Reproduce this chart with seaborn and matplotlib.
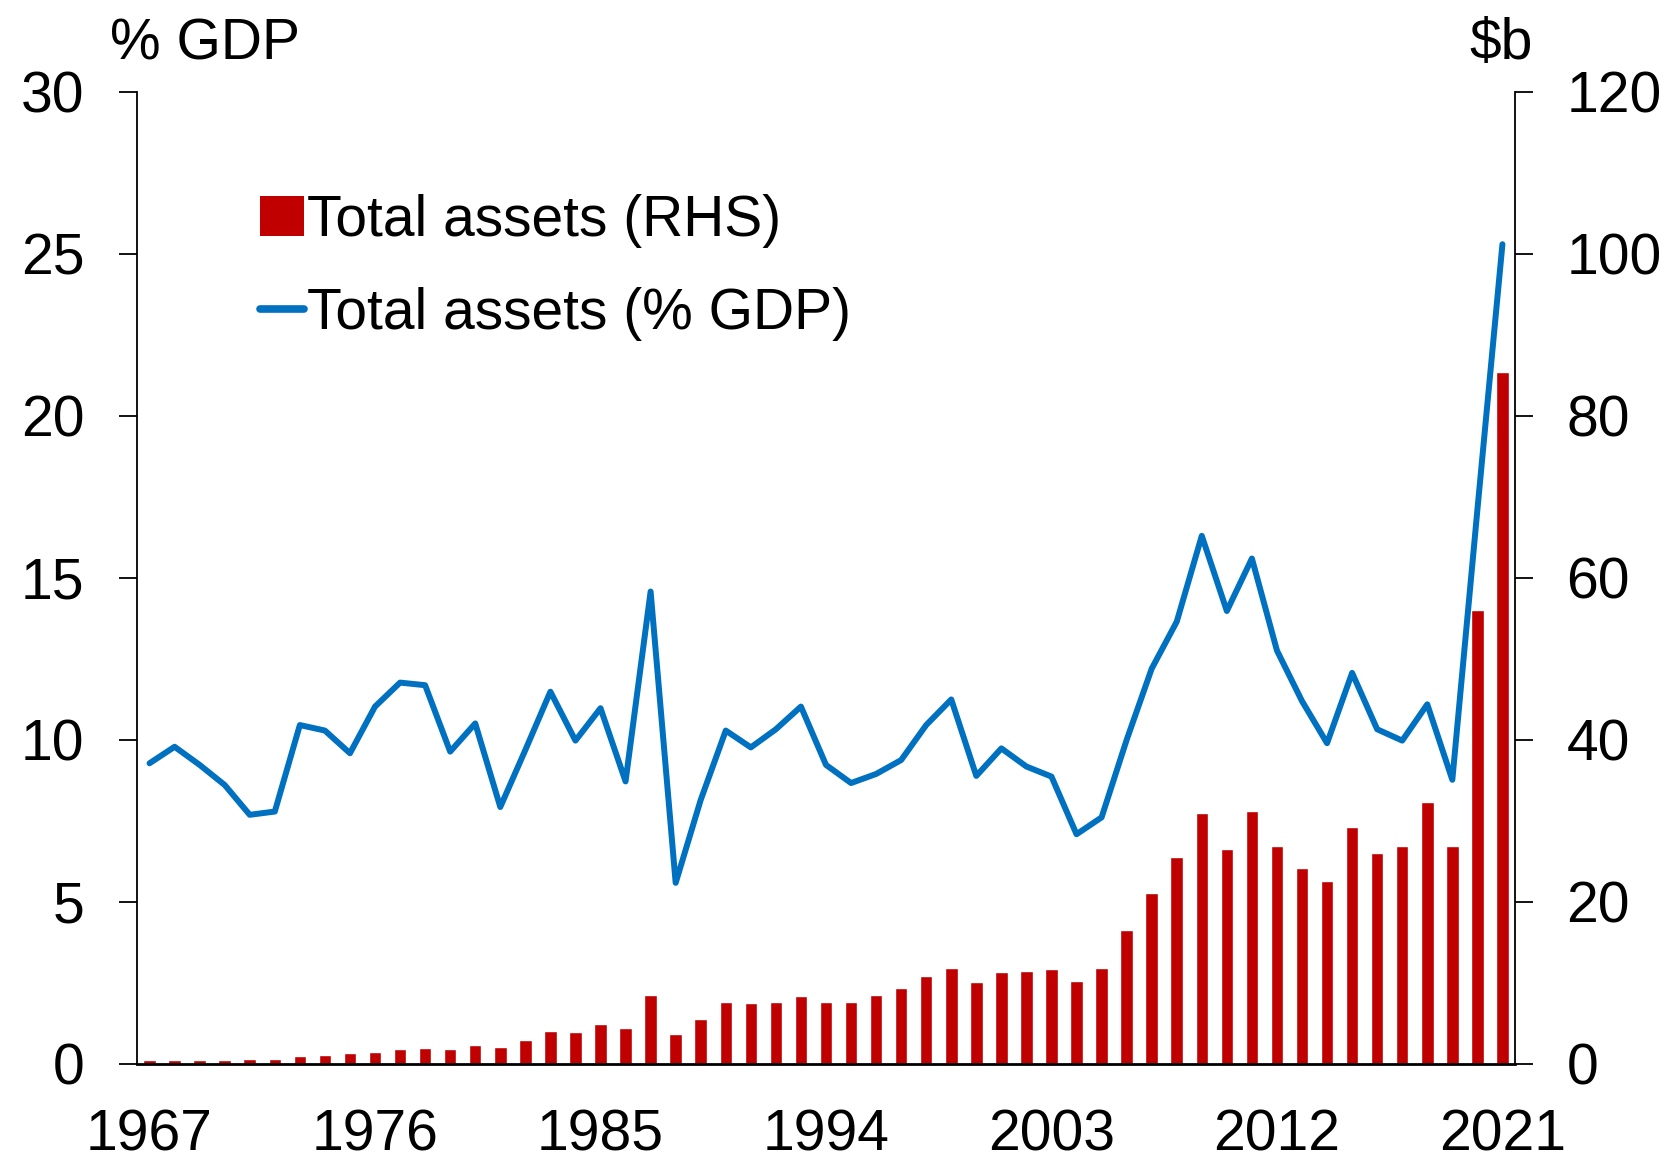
import numpy as np
import pandas as pd
import matplotlib
matplotlib.use("Agg")
import matplotlib.pyplot as plt
from matplotlib.ticker import FixedLocator
from matplotlib.patches import Patch
from matplotlib.lines import Line2D
import seaborn as sns

# 数据
years = list(range(1967, 2022))
assets_bn = [0.45, 0.5, 0.5, 0.5, 0.6, 0.65, 1.0, 1.1, 1.3, 1.5,
             1.9, 2.0, 1.9, 2.3, 2.1, 3.0, 4.1, 3.9, 4.9, 4.5,
             8.5, 3.7, 5.6, 7.7, 7.5, 7.6, 8.4, 7.6, 7.7, 8.5,
             9.4, 10.9, 11.9, 10.1, 11.4, 11.5, 11.7, 10.2, 11.8, 16.5,
             21.1, 25.5, 31.0, 26.5, 31.2, 26.9, 24.2, 22.6, 29.2, 26.0,
             26.9, 32.3, 26.9, 56.1, 85.4]
assets_gdp = [9.28, 9.79, 9.23, 8.61, 7.69, 7.79, 10.46, 10.29, 9.59, 11.03,
              11.77, 11.69, 9.64, 10.51, 7.93, 9.69, 11.49, 9.98, 10.98, 8.72,
              14.58, 5.59, 8.15, 10.29, 9.77, 10.33, 11.03, 9.23, 8.67, 8.95,
              9.38, 10.46, 11.25, 8.89, 9.74, 9.18, 8.87, 7.09, 7.61, 10.0,
              12.2, 13.65, 16.3, 13.98, 15.6, 12.76, 11.2, 9.9, 12.07, 10.33,
              9.98, 11.1, 8.77, 17.1, 25.3]
label_years = [1967, 1976, 1985, 1994, 2003, 2012, 2021]

RED = "#C00000"
BLUE = "#0070C0"

sns.set_style("white")
plt.rcParams["font.family"] = ["Liberation Sans", "DejaVu Sans"]
plt.rcParams["text.color"] = "black"
plt.rcParams["xtick.color"] = "black"
plt.rcParams["ytick.color"] = "black"

df = pd.DataFrame({"year": years, "bn": assets_bn, "gdp": assets_gdp})
df["pos"] = np.arange(len(df))

fig = plt.figure(figsize=(16.79, 11.67), dpi=100)
ax1 = fig.add_axes([0.0816, 0.0883, 0.8207, 0.8329])
ax2 = ax1.twinx()

# 柱状图 (右轴)
sns.barplot(data=df, x="pos", y="bn", color=RED, width=0.5, saturation=1,
            ax=ax2, native_scale=True)
# 折线 (左轴)
sns.lineplot(data=df, x="pos", y="gdp", color=BLUE, linewidth=4.3, ax=ax1)
for ln in ax1.lines:
    ln.set_linewidth(4.3)
    ln.set_solid_joinstyle("round")
    ln.set_solid_capstyle("round")

ax1.set_zorder(ax2.get_zorder() + 1)
ax1.patch.set_visible(False)

ax1.set_xlim(-0.5, len(years) - 0.5)
ax1.set_ylim(0, 30)
ax2.set_ylim(0, 120)
ax1.set_yticks([0, 5, 10, 15, 20, 25, 30])
ax2.set_yticks([0, 20, 40, 60, 80, 100, 120])

fs = 41
ax1.tick_params(axis="y", labelsize=fs, length=13, width=1.3, pad=25, direction="out")
ax2.tick_params(axis="y", labelsize=fs, length=13, width=1.3, pad=24, direction="out")

# x轴: 标签在类别中心, 刻度线在类别之间
lab_pos = [years.index(y) for y in label_years]
ax1.set_xticks(lab_pos)
ax1.set_xticklabels([str(y) for y in label_years])
ax1.xaxis.set_minor_locator(FixedLocator([p - 0.5 for p in lab_pos]))
ax1.tick_params(axis="x", which="major", labelsize=fs, length=0, pad=32)
ax1.tick_params(axis="x", which="minor", length=13, width=1.3, direction="out")
ax2.tick_params(axis="x", bottom=False, labelbottom=False)
ax1.set_xlabel("")
ax1.set_ylabel("")
ax2.set_ylabel("")
ax2.set_xlabel("")

for ax in (ax1, ax2):
    ax.spines["top"].set_visible(False)
    for s in ("left", "right", "bottom"):
        ax.spines[s].set_color("black")
        ax.spines[s].set_linewidth(1.3)
ax1.spines["bottom"].set_linewidth(2.0)
ax1.spines["right"].set_visible(False)
ax2.spines["left"].set_visible(False)
ax2.spines["bottom"].set_visible(False)

handles = [Patch(facecolor=RED, edgecolor="none"),
           Line2D([0], [0], color=BLUE, linewidth=5.5)]
labels = ["Total assets (RHS)", "Total assets (% GDP)"]
ax1.legend(handles, labels, loc="upper left", bbox_to_anchor=(0.089, 0.895),
           frameon=False, fontsize=fs, handlelength=0.78, handletextpad=0.05,
           labelspacing=0.69, borderpad=0, borderaxespad=0)

fig.text(0.0655, 0.962, "% GDP", fontsize=fs, ha="left", va="center")
fig.text(0.913, 0.962, "$b", fontsize=fs, ha="right", va="center")

fig.savefig("out.png", dpi=100)
